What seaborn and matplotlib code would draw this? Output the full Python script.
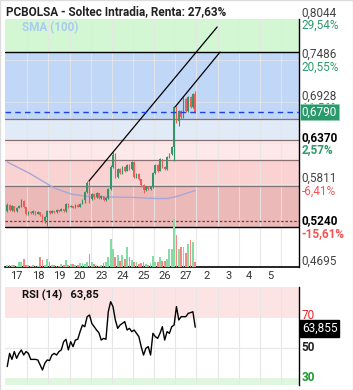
import numpy as np
import seaborn as sns
import matplotlib
matplotlib.use("Agg")
import matplotlib.pyplot as plt
from matplotlib.patches import Rectangle

title = "PCBOLSA - Soltec Intradia, Renta: 27,63%"
day_labels = ["17", "18", "19", "20", "23", "24", "25", "26", "27", "2", "3", "4", "5"]
candles_per_day = 9

first_open = 0.5451
closes = [
    0.5532, 0.5465, 0.5519, 0.5451, 0.5492, 0.5519, 0.5586, 0.5505, 0.5411,
    0.5438, 0.5424, 0.5451, 0.5411, 0.5438, 0.5397, 0.5316, 0.5370, 0.5451,
    0.5424, 0.5451, 0.5438, 0.5465, 0.5451, 0.5478, 0.5451, 0.5546, 0.5505,
    0.5519, 0.5492, 0.5532, 0.5505, 0.5546, 0.5600, 0.5708, 0.5829, 0.5613,
    0.5681, 0.5640, 0.5694, 0.5627, 0.5654, 0.5600, 0.5627, 0.5748, 0.6045,
    0.6207, 0.5910, 0.6018, 0.5964, 0.6045, 0.5991, 0.6072, 0.6018, 0.6113,
    0.5910, 0.5951, 0.5883, 0.5802, 0.5735, 0.5775, 0.5748, 0.5775, 0.5964,
    0.6072, 0.5991, 0.6153, 0.6045, 0.6018, 0.6180, 0.6221, 0.6315, 0.6856,
    0.6667, 0.6802, 0.6721, 0.6964, 0.6802, 0.6991, 0.6856, 0.7031, 0.6790,
]
highs = [
    0.5560, 0.5545, 0.5530, 0.5525, 0.5500, 0.5530, 0.5610, 0.5600, 0.5510,
    0.5450, 0.5445, 0.5460, 0.5455, 0.5445, 0.5440, 0.5405, 0.5380, 0.5460,
    0.5460, 0.5460, 0.5455, 0.5475, 0.5470, 0.5490, 0.5480, 0.5560, 0.5555,
    0.5530, 0.5525, 0.5540, 0.5540, 0.5555, 0.5610, 0.5720, 0.5856, 0.5856,
    0.5700, 0.5690, 0.5710, 0.5700, 0.5665, 0.5660, 0.5640, 0.5760, 0.6070,
    0.6248, 0.6230, 0.6030, 0.6030, 0.6060, 0.6060, 0.6090, 0.6085, 0.6130,
    0.6126, 0.5965, 0.5960, 0.5890, 0.5810, 0.5785, 0.5790, 0.5785, 0.5980,
    0.6085, 0.6080, 0.6165, 0.6160, 0.6060, 0.6195, 0.6240, 0.6330, 0.6870,
    0.6870, 0.6815, 0.6810, 0.6985, 0.6975, 0.7000, 0.7000, 0.7045, 0.7072,
]
lows = [
    0.5440, 0.5450, 0.5455, 0.5440, 0.5440, 0.5485, 0.5510, 0.5495, 0.5395,
    0.5400, 0.5415, 0.5415, 0.5400, 0.5405, 0.5385, 0.5300, 0.5290, 0.5250,
    0.5415, 0.5420, 0.5430, 0.5430, 0.5440, 0.5445, 0.5440, 0.5440, 0.5495,
    0.5500, 0.5485, 0.5485, 0.5500, 0.5500, 0.5540, 0.5560, 0.5700, 0.5560,
    0.5600, 0.5620, 0.5630, 0.5610, 0.5615, 0.5590, 0.5585, 0.5620, 0.5740,
    0.6030, 0.5895, 0.5900, 0.5950, 0.5955, 0.5980, 0.5985, 0.6005, 0.6010,
    0.5895, 0.5900, 0.5870, 0.5790, 0.5694, 0.5725, 0.5735, 0.5740, 0.5765,
    0.5955, 0.5980, 0.5985, 0.6030, 0.6005, 0.6010, 0.6170, 0.6210, 0.6126,
    0.6640, 0.6599, 0.6700, 0.6710, 0.6790, 0.6790, 0.6840, 0.6845, 0.6780,
]
volume_k = [
    2, 2, 2, 2, 1, 5, 5, 8, 2,
    2, 1, 2, 1, 1, 10, 7, 2, 8,
    5, 2, 2, 1, 1, 3, 2, 7, 2,
    3, 3, 2, 2, 4, 4, 3, 5, 13,
    5, 3, 2, 1, 2, 4, 5, 10, 28,
    18, 10, 12, 6, 12, 8, 20, 10, 7,
    5, 5, 3, 4, 5, 3, 2, 4, 11,
    5, 5, 10, 6, 6, 8, 18, 18, 48,
    32, 18, 20, 20, 14, 23, 27, 25, 5,
]
sma_idx = [0, 10, 15, 20, 27, 36, 45, 54, 63, 68, 72, 76, 80]
sma_vals = [0.6113, 0.5951, 0.5856, 0.5762, 0.5681, 0.5640, 0.5640,
            0.5634, 0.5620, 0.5620, 0.5647, 0.5688, 0.5728]
rsi = [
    37.6, 46.4, 42.4, 47.6, 43.1, 46.4, 48.7, 45.3, 47.6, 46.4, 42.4, 42.4,
    42.4, 42.0, 38.7, 35.3, 39.8, 42.0, 41.6, 45.3, 46.4, 45.3, 47.6, 48.7,
    54.2, 55.8, 48.7, 54.2, 50.9, 55.3, 55.8, 60.9, 65.3, 64.2, 70.9, 72.0,
    66.4, 64.2, 62.0, 60.2, 55.3, 56.4, 55.8, 74.2, 80.9, 77.6, 68.7, 63.1,
    65.3, 66.4, 67.6, 62.0, 63.1, 60.9, 62.0, 59.8, 57.6, 50.9, 45.3, 49.8,
    50.9, 45.3, 59.8, 57.6, 56.4, 59.8, 64.2, 55.3, 60.9, 59.8, 64.2, 65.3,
    77.6, 68.7, 70.9, 70.9, 70.9, 73.1, 73.6, 74.2, 63.855,
]
last_price = 0.6790

price_ticks = [0.8044, 0.7486, 0.6928, 0.6370, 0.5811, 0.5240, 0.4695]
tick_text = ["0,8044", "0,7486", "0,6928", "0,6370", "0,5811", "0,5240", "0,4695"]
pct_text = ["29,54%", "20,55%", "11,56%", "2,57%", "-6,41%", "-15,61%", ""]
bold_ticks = ["0,6370", "0,5240"]

zone_edges = [0.8044, 0.7598, 0.6694, 0.6414, 0.6140, 0.5793, 0.5240]
zone_colors = ["#d3f6d3", "#c1d7f8", "#e1eaf7", "#fde9e9", "#fbd2d2", "#ecb9b9"]
level_lines = [0.6694, 0.6414, 0.6140, 0.5793]
black_lines = [0.7598, 0.5240]
entry_line = 0.5316

trend1_days = [3.92, 9.98]
trend1_prices = [0.5856, 0.7936]
trend2_days = [7.99, 10.12]
trend2_prices = [0.6856, 0.7598]

GREEN = "#33966a"
RED = "#f05c58"
VGREEN = "#84dca4"
VRED = "#f98585"

sns.set_style("white")
plt.rcParams["font.family"] = ["Roboto", "DejaVu Sans"]

fig = plt.figure(figsize=(3.53, 3.90), dpi=100)
W, H = 353, 390
ax = fig.add_axes([5 / W, 123 / H, 294 / W, 248 / H])
ax_r = fig.add_axes([5 / W, 5 / H, 294 / W, 98 / H])
xlim = (-0.05, 13.85)

n = len(closes)
cx = (np.arange(n) + 0.5) / candles_per_day
opens = np.r_[first_open, closes[:-1]]
closes_a = np.array(closes)
up = closes_a >= opens
ccol = np.where(up, GREEN, RED)
vcol = np.where(up, VGREEN, VRED)

# zones and lines
for i, c in enumerate(zone_colors):
    ax.axhspan(zone_edges[i + 1], zone_edges[i], color=c, zorder=0, lw=0)
for d in range(1, 14):
    ax.axvline(d, color="#e6e6e6", lw=0.8, alpha=0.85, zorder=1)
for t in price_ticks[1:-1]:
    ax.axhline(t, color="#e6e6e6", lw=0.8, alpha=0.7, zorder=1)
for l in level_lines:
    ax.axhline(l, color="#8a7070", lw=0.9, zorder=2)
for l in black_lines:
    ax.axhline(l, color="black", lw=1.0, zorder=3)
ax.axhline(entry_line, color="#8b3030", lw=0.9, ls=(0, (2, 1.5)), zorder=3)

# sma
sns.lineplot(x=cx[sma_idx], y=sma_vals, ax=ax, color="#a7a7d8", lw=1.0, zorder=3, legend=False)

# volume on twin axis
ax_v = ax.twinx()
ax_v.bar(cx, volume_k, width=0.085, color=vcol, zorder=2, lw=0)
ax_v.set_ylim(0, 248)
ax_v.set_xlim(*xlim)
ax_v.axis("off")

# candles
bottoms = np.minimum(opens, closes_a)
heights = np.maximum(np.abs(closes_a - opens), 0.0012)
ax.vlines(cx, lows, highs, colors=ccol, lw=0.8, zorder=4)
ax.bar(cx, heights, bottom=bottoms, width=0.075, color=ccol, lw=0, zorder=4)

ax.plot(trend1_days, trend1_prices, color="black", lw=0.9, zorder=5)
ax.plot(trend2_days, trend2_prices, color="black", lw=0.9, zorder=5)
ax.axhline(last_price, color="#1f3fe6", lw=1.0, ls=(0, (4, 3)), zorder=5)

ax.set_xlim(*xlim)
ax.set_ylim(price_ticks[-1], price_ticks[0])
ax.set_yticks([])
ax.set_xticks(np.arange(len(day_labels)) + 0.5)
ax.set_xticklabels(day_labels, fontsize=8, color="#333333")
ax.tick_params(axis="x", length=0, pad=3)
for s in ["top", "left"]:
    ax.spines[s].set_visible(False)
ax.spines["right"].set_color("black")
ax.spines["bottom"].set_color("black")
ax.spines["right"].set_linewidth(1)
ax.spines["bottom"].set_linewidth(1.2)

# price labels on the right
for t, txt, pct in zip(price_ticks, tick_text, pct_text):
    bold = txt in bold_ticks
    ax.annotate(txt, xy=(1, t), xycoords=("axes fraction", "data"), xytext=(2, -0.5),
                textcoords="offset points", va="bottom", ha="left", fontsize=8.5,
                color="black" if bold else "#444444", weight="bold" if bold else "normal",
                annotation_clip=False, zorder=6)
    if pct:
        neg = pct.startswith("-")
        ax.annotate(pct, xy=(1, t), xycoords=("axes fraction", "data"), xytext=(2, 0),
                    textcoords="offset points", va="top", ha="left", fontsize=8.5,
                    color="#f25454" if neg else "#2e9a6c", weight="bold" if bold else "normal",
                    annotation_clip=False, zorder=6)
# current price tag sits over the 11,56% label, as in the original
ax.annotate("0,6790", xy=(1, last_price), xycoords=("axes fraction", "data"), xytext=(2, 0),
            textcoords="offset points", va="center", ha="left", fontsize=8.5, color="white",
            bbox=dict(boxstyle="square,pad=0.15", fc="#2a9a6c", ec="#8fd0b0", lw=0.6),
            annotation_clip=False, zorder=10)
ax.text(0.058, 0.965, "SMA (100)", transform=ax.transAxes, fontsize=8.5, weight="bold",
        color="#a9cbef", va="center", ha="left")

# RSI panel
rlo, rhi = 25.3, 90.7
ax_r.axhspan(70, rhi, color="#fde4e4", lw=0, zorder=0)
ax_r.axhspan(rlo, 30, color="#dff7df", lw=0, zorder=0)
for d in range(1, 14):
    ax_r.axvline(d, color="#e6e6e6", lw=0.8, zorder=1)
ax_r.axhline(50, color="#e6e6e6", lw=0.8, zorder=1)
sns.lineplot(x=cx, y=rsi, ax=ax_r, color="black", lw=1.0, zorder=3, legend=False)
ax_r.set_xlim(*xlim)
ax_r.set_ylim(rlo, rhi)
ax_r.set_xticks([])
ax_r.set_yticks([])
for s in ["top", "left", "bottom"]:
    ax_r.spines[s].set_visible(False)
ax_r.spines["right"].set_color("black")
ax_r.spines["right"].set_linewidth(1)
ax_r.annotate("63,855", xy=(1, rsi[-1]), xycoords=("axes fraction", "data"), xytext=(2, -1),
              textcoords="offset points", va="center", ha="left", fontsize=8.5, color="white",
              bbox=dict(boxstyle="square,pad=0.15", fc="black", ec="black"),
              annotation_clip=False, zorder=10)
for v, c, w, dy in [(70, "#e8262a", "normal", 1.5), (50, "#222222", "bold", 0),
                    (30, "#1e9b2e", "bold", 0)]:
    ax_r.annotate(str(v), xy=(1, v), xycoords=("axes fraction", "data"), xytext=(2, dy),
                  textcoords="offset points", va="center", ha="left", fontsize=8.5,
                  color=c, weight=w, annotation_clip=False, zorder=11)
ax_r.text(0.058, 0.915, "RSI (14)   63,85", transform=ax_r.transAxes, fontsize=8,
          weight="bold", color="#111111", va="center", ha="left")

fig.text(6 / W, 1 - 12 / H, title, fontsize=8.5, weight="bold", color="#222222", va="center")
fig.patches.append(Rectangle((0, 0), 1, 1, transform=fig.transFigure, fill=False,
                             edgecolor="#dddddd", lw=1))

fig.savefig("out.png", dpi=100)
